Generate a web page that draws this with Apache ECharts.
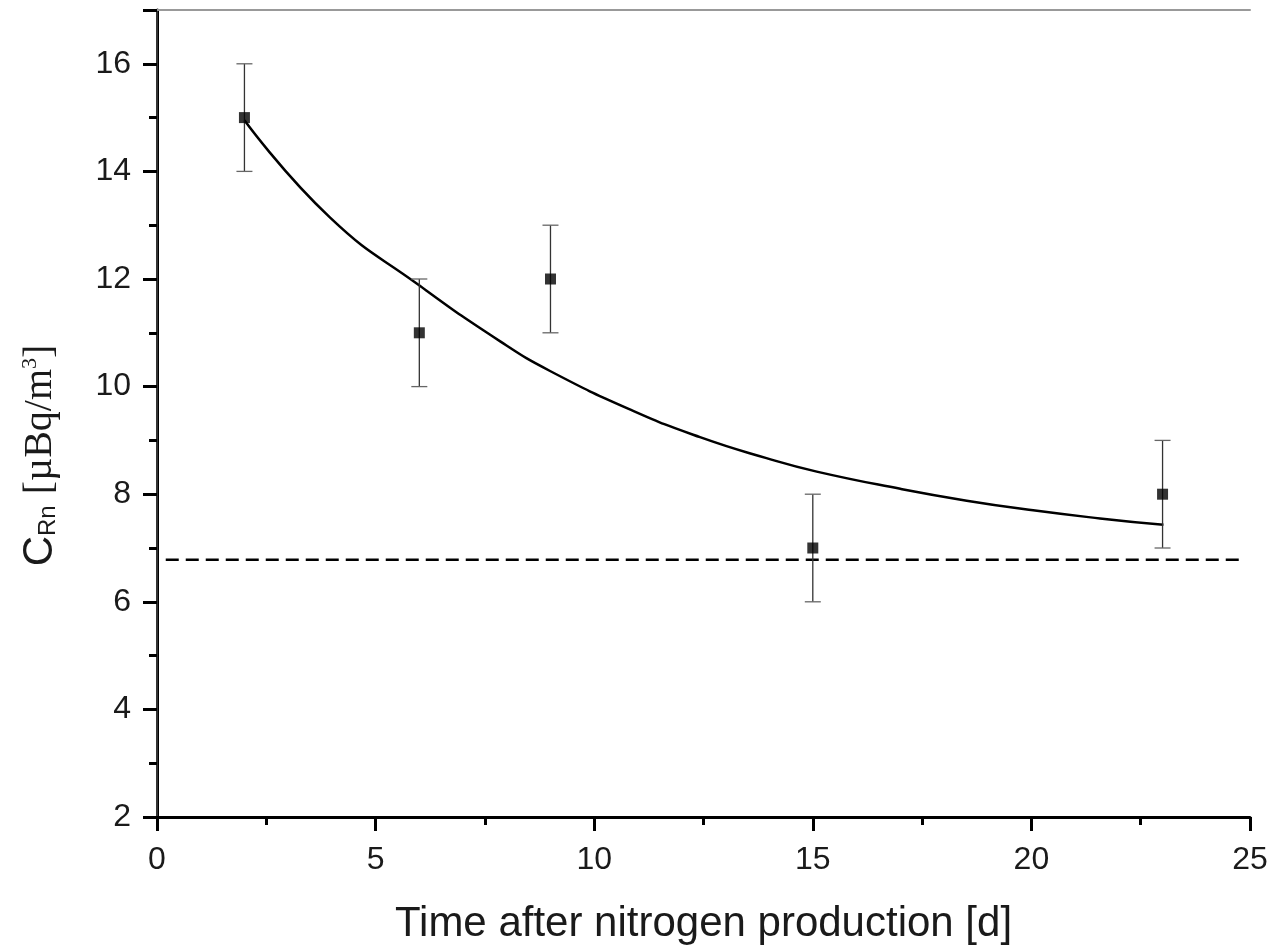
<!DOCTYPE html>
<html lang="en">
<head>
    <meta charset="UTF-8">
    <title>Radon concentration</title>
    <script src="https://cdn.jsdelivr.net/npm/echarts@6/dist/echarts.min.js"></script>
    <style>
        html, body { margin: 0; padding: 0; background: #fff; }
    </style>
</head>
<body>
<div id="container" style="width: 1279px; height: 946px"></div>

<script type="text/javascript">
    // measured points
    var days = [2, 6, 9, 15, 23];
    var conc = [15, 11, 12, 7, 8];
    var errs = [1, 1, 1, 1, 1];

    // fitted curve
    var fitX = [2, 3.96, 6.02, 7.85, 8.99, 10.89, 12.42, 13.94, 15.09, 17, 18.52, 20.04, 21.57, 23.02];
    var fitY = [14.95, 13.14, 11.87, 10.84, 10.29, 9.55, 9.06, 8.67, 8.42, 8.1, 7.88, 7.7, 7.55, 7.43];

    // background level (dashed)
    var baseX = [0.2, 24.8];
    var baseY = [6.78, 6.78];

    var xTicks = [0, 5, 10, 15, 20, 25];
    var yTicks = [2, 4, 6, 8, 10, 12, 14, 16];

    var pts = days.map(function (d, i) { return [d, conc[i]]; });
    var errData = days.map(function (d, i) { return [d, conc[i] - errs[i], conc[i] + errs[i]]; });
    var fitData = fitX.map(function (x, i) { return [x, fitY[i]]; });
    var baseData = baseX.map(function (x, i) { return [x, baseY[i]]; });

    var myChart = echarts.init(document.getElementById('container'), null, {renderer: 'canvas'});

    var font = "'Liberation Sans', Arial, sans-serif";
    var serif = "'Liberation Serif', 'Times New Roman', serif";

    var option = {
        animation: false,
        backgroundColor: '#fff',
        grid: {left: 157, right: 29, top: 10, bottom: 129, outerBoundsMode: 'none', containLabel: false},
        xAxis: [{
            type: 'value',
            min: 0, max: 25, interval: 5,
            name: 'Time after nitrogen production [d]',
            nameLocation: 'middle',
            nameGap: 86,
            nameTextStyle: {fontFamily: font, fontSize: 42, color: '#1a1a1a'},
            axisLine: {lineStyle: {color: '#000', width: 3}},
            axisTick: {inside: false, length: 14, lineStyle: {color: '#000', width: 3}},
            minorTick: {show: true, splitNumber: 2, length: 8, lineStyle: {color: '#000', width: 3}},
            axisLabel: {
                fontFamily: font, fontSize: 32, color: '#1a1a1a', margin: 27,
                formatter: function (v) { return xTicks.indexOf(v) >= 0 ? String(v) : ''; }
            },
            splitLine: {show: false}
        }, {
            type: 'value', position: 'top', min: 0, max: 25,
            axisLine: {show: true, lineStyle: {color: '#999', width: 2}},
            axisTick: {show: false}, axisLabel: {show: false}, splitLine: {show: false}
        }],
        yAxis: [{
            type: 'value',
            min: 2, max: 17, interval: 2,
            name: '{c|C}{sub|Rn} {ser|[µBq/m}{sup|3}{ser|]}',
            nameLocation: 'middle',
            nameGap: 96,
            nameTextStyle: {
                fontFamily: font, fontSize: 40, color: '#1a1a1a',
                padding: [0, 84, 0, 0],
                rich: {
                    c: {fontFamily: font, fontSize: 42, color: '#1a1a1a'},
                    sub: {fontFamily: font, fontSize: 24, color: '#1a1a1a', padding: [16, 0, 0, 0]},
                    ser: {fontFamily: serif, fontSize: 40, color: '#1a1a1a'},
                    sup: {fontFamily: serif, fontSize: 22, color: '#1a1a1a', padding: [0, 0, 20, 0]}
                }
            },
            axisLine: {onZero: false, lineStyle: {color: '#000', width: 3}},
            axisTick: {inside: false, length: 14, lineStyle: {color: '#000', width: 3}},
            minorTick: {show: true, splitNumber: 2, length: 8, lineStyle: {color: '#000', width: 3}},
            axisLabel: {
                fontFamily: font, fontSize: 32, color: '#1a1a1a', margin: 26,
                showMaxLabel: false,
                formatter: function (v) { return yTicks.indexOf(v) >= 0 ? String(v) : ''; }
            },
            splitLine: {show: false}
        }, {
            type: 'value', position: 'right', min: 2, max: 17,
            axisLine: {show: true, lineStyle: {color: '#333', width: 2}},
            axisTick: {show: false}, axisLabel: {show: false}, splitLine: {show: false}
        }],
        series: [
            {
                name: 'background',
                type: 'line',
                data: baseData,
                symbol: 'none',
                lineStyle: {color: '#000', width: 2.5, type: [13, 7]},
                z: 2
            },
            {
                name: 'fit',
                type: 'line',
                data: fitData,
                smooth: 0.5,
                symbol: 'none',
                lineStyle: {color: '#000', width: 2.5},
                z: 3
            },
            {
                name: 'error',
                type: 'custom',
                data: errData,
                z: 4,
                renderItem: function (params, api) {
                    var lo = api.coord([api.value(0), api.value(1)]);
                    var hi = api.coord([api.value(0), api.value(2)]);
                    var hw = 8;
                    return {
                        type: 'group',
                        children: [
                            {type: 'line', shape: {x1: lo[0], y1: lo[1], x2: hi[0], y2: hi[1]},
                                style: {stroke: '#333', lineWidth: 1.3}},
                            {type: 'line', shape: {x1: lo[0] - hw, y1: lo[1], x2: lo[0] + hw, y2: lo[1]},
                                style: {stroke: '#666', lineWidth: 1.3}},
                            {type: 'line', shape: {x1: hi[0] - hw, y1: hi[1], x2: hi[0] + hw, y2: hi[1]},
                                style: {stroke: '#666', lineWidth: 1.3}}
                        ]
                    };
                }
            },
            {
                name: 'data',
                type: 'scatter',
                data: pts,
                symbol: 'rect',
                symbolSize: 11,
                itemStyle: {color: '#000'},
                z: 5
            }
        ]
    };

    myChart.setOption(option);
    window.addEventListener('resize', myChart.resize);
</script>
</body>
</html>
